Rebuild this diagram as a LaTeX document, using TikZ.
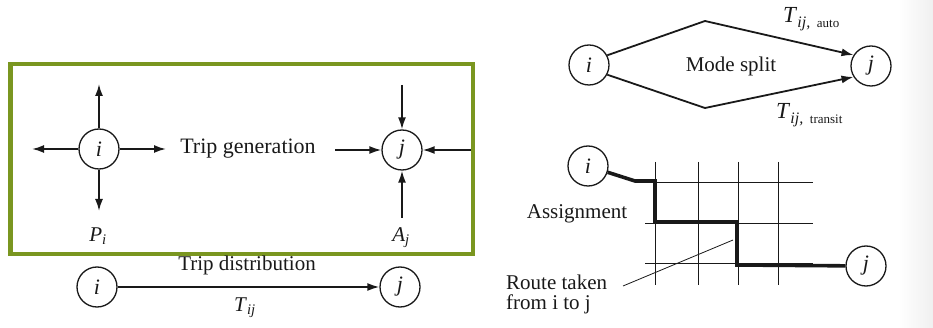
\documentclass[tikz,border=0pt]{standalone}
\usepackage{fontspec}
\setmainfont{Liberation Serif}
\usetikzlibrary{arrows.meta}
\definecolor{framegreen}{RGB}{122,150,32}
\definecolor{inkc}{RGB}{25,25,25}
\begin{document}
\begin{tikzpicture}[x=1pt,y=-1pt,
  nd/.style={circle, draw=inkc, line width=1.3, minimum size=40, inner sep=0pt,
    font=\fontsize{22}{22}\selectfont\itshape, text=inkc},
  txt/.style={inner sep=0pt, font=\fontsize{21}{24}\selectfont, text=inkc},
  arr/.style={draw=inkc, line width=1.8, -{Latex[length=12,width=8]}},
  ln/.style={draw=inkc, line width=1.8},
  gridln/.style={draw=inkc, line width=0.9},
  route/.style={draw=inkc, line width=3.6, line join=miter},
  leader/.style={draw=inkc, line width=0.8}]
\useasboundingbox (0,0) rectangle (933,328);
\shade[left color=white, right color=gray!12] (898,0) rectangle (933,328);
% frame
\draw[framegreen, line width=4.5] (10.5,64) rectangle (473,254);
% trip generation
\node[nd] (gi) at (99,149) {i};
\coordinate (gu) at (99,84);
\coordinate (gl) at (32,149);
\coordinate (gr) at (166,149);
\coordinate (gd) at (99,211);
\draw[arr] (gi) -- (gu);
\draw[arr] (gi) -- (gl);
\draw[arr] (gi) -- (gr);
\draw[arr] (gi) -- (gd);
\node[txt] (pi) at (98,236) {\textit{P}\textsubscript{\textit{i}}};
\node[txt, font=\fontsize{22}{24}\selectfont] (tg) at (248,149) {Trip generation};
\node[nd] (gj) at (402,150) {j};
\coordinate (ju) at (402,85);
\coordinate (jl) at (335,150);
\coordinate (jr) at (471,150);
\coordinate (jd) at (402,218);
\draw[arr] (ju) -- (gj);
\draw[arr] (jl) -- (gj);
\draw[arr] (jr) -- (gj);
\draw[arr] (jd) -- (gj);
\node[txt] (aj) at (401,238) {\textit{A}\textsubscript{\textit{j}}};
% trip distribution
\node[nd] (di) at (97,287) {i};
\node[nd] (dj) at (400,287) {j};
\draw[arr] (di) -- (dj);
\node[txt] (td) at (247,265) {Trip distribution};
\node[txt] (tij) at (245,308) {\textit{T}\textsubscript{\textit{ij}}};
% mode split
\node[nd] (mi) at (589,65) {i};
\node[nd] (mj) at (871,66) {j};
\coordinate (ma) at (705,21);
\coordinate (mb) at (705,108);
\draw[ln, -{Latex[length=12,width=8]}] (mi.28) -- (ma) -- (mj.148);
\draw[ln, -{Latex[length=12,width=8]}] (mi.-28) -- (mb) -- (mj.-148);
\node[txt] (ms) at (731,66) {Mode split};
\node[txt, anchor=west] (ta) at (783,19) {\fontsize{23}{24}\selectfont\textit{T}\raisebox{-5pt}{\fontsize{16}{16}\selectfont\textit{ij,}\, \fontsize{13}{13}\selectfont auto}};
\node[txt, anchor=west] (tt) at (776,115) {\fontsize{23}{24}\selectfont\textit{T}\raisebox{-5pt}{\fontsize{16}{16}\selectfont\textit{ij,}\, \fontsize{13}{13}\selectfont transit}};
% assignment grid
\foreach \x in {655,698,738,778} \draw[gridln] (\x,162) -- (\x,285);
\draw[gridln] (640,182) -- (813,182);
\draw[gridln] (645,223) -- (813,223);
\draw[gridln] (645,263) -- (813,263);
\node[nd, fill=white] (ai) at (588,166) {i};
\node[nd, fill=white] (aj2) at (866,266) {j};
\coordinate (r1) at (635,181);
\coordinate (r2) at (655,181);
\coordinate (r3) at (655,222);
\coordinate (r4) at (737,222);
\coordinate (r5) at (737,265);
\draw[route] (ai) -- (r1) -- (r2) -- (r3) -- (r4) -- (r5) -- (aj2);
\coordinate (la) at (623,286);
\coordinate (lb) at (733,240);
\draw[leader] (la) -- (lb);
\node[txt] (asg) at (577,214) {Assignment};
\node[txt, anchor=base west] (rt1) at (506,290) {Route taken};
\node[txt, anchor=base west] (rt2) at (506,309) {from i to j};
\end{tikzpicture}
\end{document}
